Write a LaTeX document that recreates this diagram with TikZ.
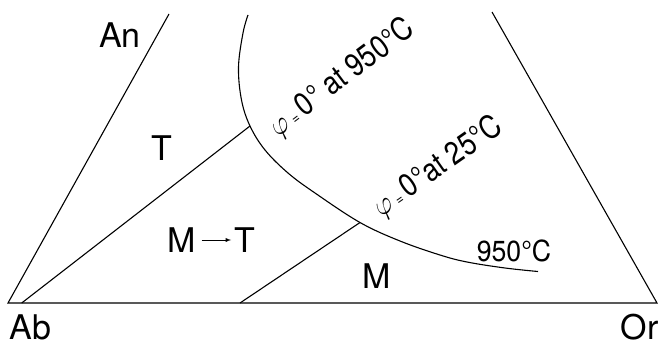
\documentclass[tikz,border=0pt]{standalone}
\usepackage{graphicx}
\usepackage{fontspec}
\setmainfont{TeX Gyre Heros}
\newcommand{\phieq}{\raisebox{0pt}{\scalebox{1.25}{$\varphi$}}\,{\fontsize{15}{16}\selectfont=}\,}
\begin{document}
\begin{tikzpicture}[x=1pt,y=-1pt, line width=1.1pt,
  lbl/.style={font=\fontsize{34}{40}\selectfont, inner sep=0pt},
  sml/.style={font=\fontsize{29}{32}\selectfont, inner sep=0pt},
  rot/.style={font=\fontsize{32}{36}\selectfont, inner sep=0pt}]
\useasboundingbox (0,0) rectangle (660,343);
% corners and junctions
\coordinate (Ab) at (8,303);
\coordinate (Or) at (657,303);
\coordinate (AnTop) at (169,14);
\coordinate (OrTop) at (492,12);
\coordinate (TJ) at (250,126);
\coordinate (MJ) at (360,222.5);
\coordinate (TB) at (21.7,303);
\coordinate (MB) at (240,303);
% triangle sides
\draw (AnTop) -- (Ab) -- (Or) -- (OrTop);
% boundaries
\draw (TB) -- (TJ);
\draw (MB) -- (MJ);
\draw plot[smooth, tension=0.6] coordinates {(248,15) (243,33) (238.5,67) (241.5,100) (TJ) (265,150) (288,173) (315,193) (MJ) (400,241) (440,255) (467,262) (505,268) (538,271.5)};
% labels
\node[lbl, anchor=base] (an) at (120,47) {An};
\node[lbl, anchor=base] (t) at (162,160) {T};
\node[lbl, anchor=base] (m1) at (182,252) {M};
\node[lbl, anchor=base] (t2) at (245,252) {T};
\draw[-latex, line width=0.9pt, shorten <=5pt, shorten >=3pt] (m1.east |- 0,240) coordinate (aS) -- (t2.west |- 0,240) coordinate (aE);
\node[lbl, anchor=base] (m) at (377,288) {M};
\node[sml, anchor=base] (c950) at (514,261) {\scalebox{0.92}[1]{950°C}};
\node[lbl, anchor=base west] (ab) at (9,339) {Ab};
\node[lbl, anchor=base east] (or) at (659,339) {Or};
\node[rot, rotate=37] (phi1) at (342,78) {\scalebox{0.85}[1]{\phieq 0° at 950°C}};
\node[rot, rotate=35] (phi2) at (438,167) {\scalebox{0.85}[1]{\phieq 0°at 25°C}};
\end{tikzpicture}
\end{document}
